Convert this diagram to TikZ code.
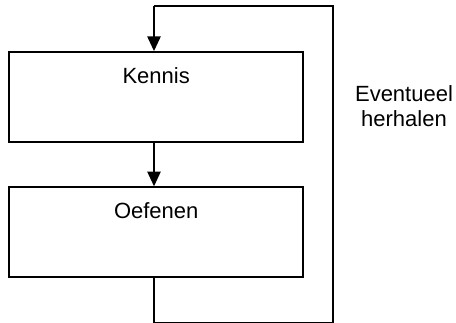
\documentclass[tikz,border=0pt]{standalone}
\usepackage{fontspec}
\setmainfont{Liberation Sans}
\usetikzlibrary{arrows.meta}

\tikzset{every picture/.style={line width=1.1pt}}
\tikzset{stapbox/.style={draw, rectangle, minimum width=220.5pt, minimum height=67.5pt, inner sep=0pt},
  tekst/.style={font=\fontsize{16.5}{19}\selectfont, anchor=base},
  pijl/.style={-{Triangle[width=10pt,length=11pt]}}}

\begin{document}
\begin{tikzpicture}[x=0.75pt,y=0.75pt,yscale=-1,xscale=1]
\useasboundingbox (0,0) rectangle (456,322);

% Box
\node[stapbox] (kennis) at (156.2,96.8) {};
\node[tekst] (kennistekst) at (156.2,83.3) {Kennis};
% Box
\node[stapbox] (oefenen) at (156.2,232) {};
\node[tekst] (oefenentekst) at (156.2,218.3) {Oefenen};
% Text Node
\node[tekst, align=center] (herhalen) at (404,126.7) {Eventueel\\herhalen};

% Loop points
\coordinate (boven) at (154,6);
\coordinate (rechtsboven) at (333,6);
\coordinate (rechtsonder) at (333,323);

% Connection
\draw[pijl] (boven) -- (boven |- kennis.north);
% Connection
\draw[pijl] (kennis.south -| boven) -- (oefenen.north -| boven);
% Connection
\draw (oefenen.south -| boven) |- (rechtsonder) -- (rechtsboven) -- (boven);

\end{tikzpicture}
\end{document}
